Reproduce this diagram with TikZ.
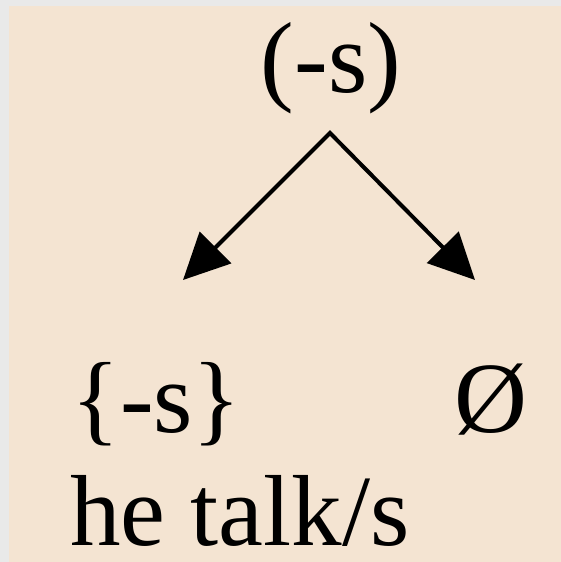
\documentclass[tikz,border=0pt]{standalone}
\usepackage{fontspec}
\setmainfont{Liberation Serif}
\usetikzlibrary{arrows.meta}
\definecolor{panelbeige}{HTML}{F4E4D2}
\definecolor{framegray}{HTML}{E9E9E9}

\begin{document}
\begin{tikzpicture}[x=1pt,y=-1pt]
\tikzstyle{morph}=
[
    %Sets font and anchor for every label
    anchor=base,
    inner sep=0pt,
    font=\fontsize{101}{120}\selectfont
    ]
\tikzstyle{branch}=
[
    %Formats the two arrows
    line width=4pt,
    line join=miter,
    {Triangle[length=46pt,width=44pt]}-{Triangle[length=46pt,width=44pt]}
    ]
\useasboundingbox (0,0) rectangle (561,562);
%Background panel with its grey frame
\fill[framegray] (0,0) rectangle (561,562);
\fill[panelbeige] (9,6) rectangle (561,562);
%Labels
\node[morph] (suffix) at (331,92) {(-s)};
\node[morph] (plural) at (156.5,432) {\{-s\}};
\node[morph] (zero) at (491,432) {Ø};
\node[morph, anchor=base west, text depth=0pt] (example) at (70,545) {he talk/s};
%Branch points
\coordinate (apex) at (330,133);
\coordinate (lefttip) at (183,280);
\coordinate (righttip) at (475,280);
\draw[branch] (lefttip) -- (apex) -- (righttip);
\end{tikzpicture}
\end{document}
